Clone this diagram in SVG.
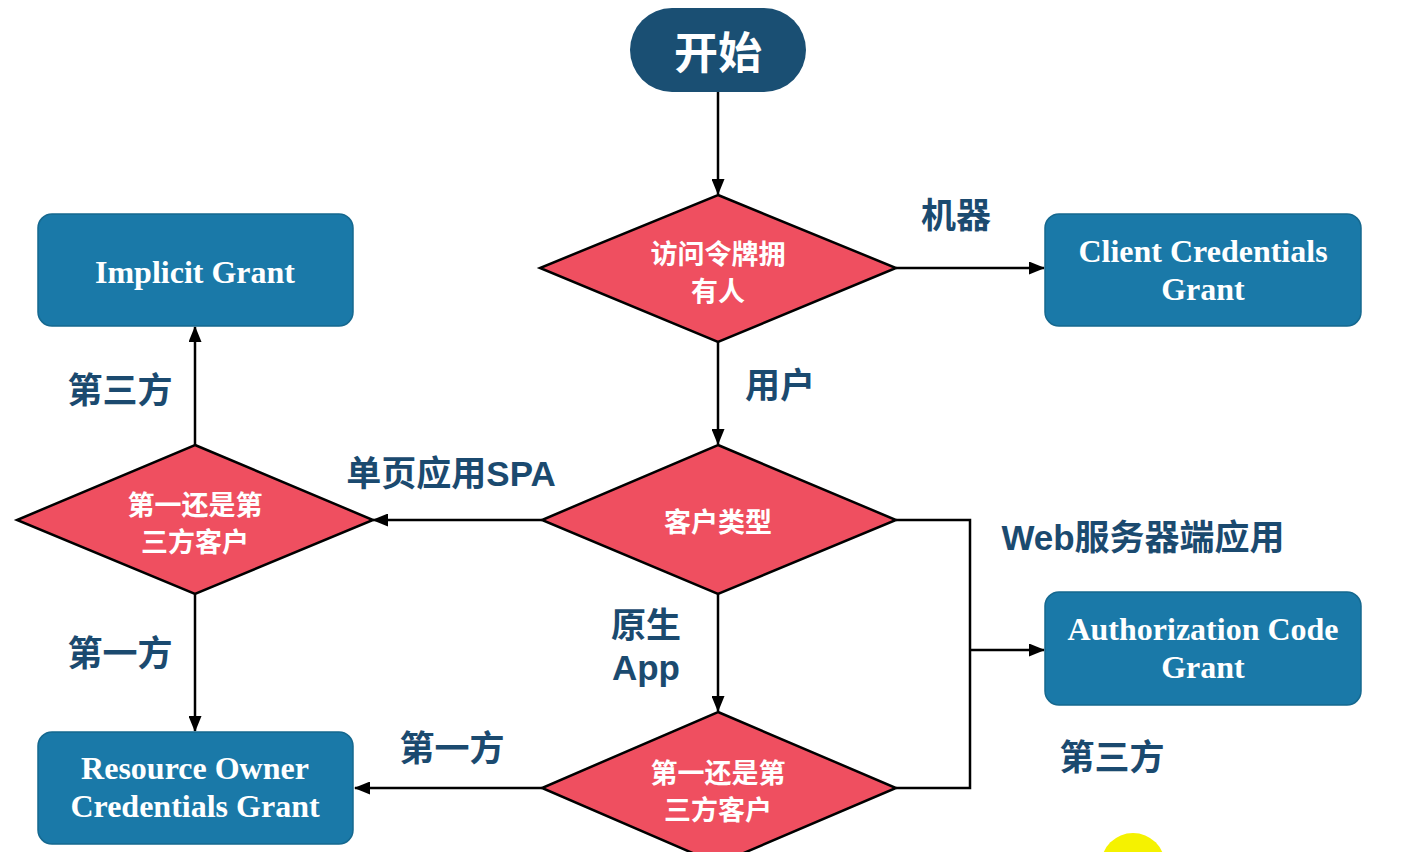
<svg xmlns="http://www.w3.org/2000/svg" width="1416" height="852" viewBox="0 0 1416 852">
<defs>
<marker id="arr" viewBox="0 0 16 13" refX="15" refY="6.5" markerWidth="16" markerHeight="13" markerUnits="userSpaceOnUse" orient="auto">
<path d="M0,0 L16,6.5 L0,13 Z" fill="#000"/>
</marker>
<style>
.box{fill:#1a79a8;stroke:#15688f;stroke-width:1.5}
.dia{fill:#ef4f60;stroke:#000;stroke-width:2.5}
.bt{font-family:"Liberation Serif","Times New Roman",serif;font-weight:bold;font-size:32px;fill:#fff;text-anchor:middle}
.dt{font-family:"Noto Sans CJK SC",sans-serif;font-weight:bold;font-size:27px;fill:#fff;text-anchor:middle;dominant-baseline:central}
.lb{font-family:"Liberation Sans","Noto Sans CJK SC",sans-serif;font-weight:bold;font-size:35px;fill:#1b4a6f;text-anchor:middle;dominant-baseline:central}
.ln{fill:none;stroke:#000;stroke-width:2.5}
</style>
</defs>
<rect width="1416" height="852" fill="#fff"/>

<g id="connectors">
<path class="ln" d="M718,92 V194" marker-end="url(#arr)"/>
<path class="ln" d="M896,268 H1044" marker-end="url(#arr)"/>
<path class="ln" d="M718,342 V444" marker-end="url(#arr)"/>
<path class="ln" d="M542,520 H373" marker-end="url(#arr)"/>
<path class="ln" d="M896,520 H970 V788 H896"/>
<path class="ln" d="M970,650 H1044" marker-end="url(#arr)"/>
<path class="ln" d="M718,594 V711" marker-end="url(#arr)"/>
<path class="ln" d="M542,788 H355" marker-end="url(#arr)"/>
<path class="ln" d="M195,445 V327" marker-end="url(#arr)"/>
<path class="ln" d="M195,594 V731" marker-end="url(#arr)"/>
</g>

<g id="start">
<rect x="630" y="8" width="176" height="84" rx="42" fill="#1a4f73"/>
<text x="718" y="50" font-family="Noto Sans CJK SC,sans-serif" font-weight="bold" font-size="44" fill="#fff" text-anchor="middle" dominant-baseline="central">开始</text>
</g>

<g id="d-owner">
<polygon class="dia" points="718,195 896,268 718,342 540,268"/>
<text class="dt" x="718" y="252">访问令牌拥</text>
<text class="dt" x="718" y="289">有人</text>
</g>

<g id="d-type">
<polygon class="dia" points="718,445 896,520 718,594 542,520"/>
<text class="dt" x="718" y="520">客户类型</text>
</g>

<g id="d-left">
<polygon class="dia" points="195,445 373,520 195,594 17,520"/>
<text class="dt" x="195" y="503">第一还是第</text>
<text class="dt" x="195" y="540">三方客户</text>
</g>

<g id="d-bottom">
<polygon class="dia" points="718,712 896,788 718,864 542,788"/>
<text class="dt" x="718" y="771">第一还是第</text>
<text class="dt" x="718" y="808">三方客户</text>
</g>

<g id="client-credentials">
<rect class="box" x="1045" y="214" width="316" height="112" rx="14"/>
<text class="bt" x="1203" y="262">Client Credentials</text>
<text class="bt" x="1203" y="300">Grant</text>
</g>

<g id="implicit">
<rect class="box" x="38" y="214" width="315" height="112" rx="14"/>
<text class="bt" x="195" y="283">Implicit Grant</text>
</g>

<g id="auth-code">
<rect class="box" x="1045" y="592" width="316" height="113" rx="14"/>
<text class="bt" x="1203" y="640">Authorization Code</text>
<text class="bt" x="1203" y="678">Grant</text>
</g>

<g id="resource-owner">
<rect class="box" x="38" y="732" width="315" height="112" rx="14"/>
<text class="bt" x="195" y="779">Resource Owner</text>
<text class="bt" x="195" y="817">Credentials Grant</text>
</g>

<g id="labels">
<text class="lb" x="956" y="215">机器</text>
<text class="lb" x="780" y="385">用户</text>
<text class="lb" x="451" y="473">单页应用SPA</text>
<text class="lb" x="1143" y="537" font-size="37">Web服务器端应用</text>
<text class="lb" x="1112" y="757">第三方</text>
<text class="lb" x="120" y="390">第三方</text>
<text class="lb" x="120" y="653">第一方</text>
<text class="lb" x="452" y="748">第一方</text>
<text class="lb" x="646" y="625">原生</text>
<text class="lb" x="646" y="667">App</text>
</g>

<circle cx="1133" cy="865" r="32" fill="#f5f200"/>
</svg>
